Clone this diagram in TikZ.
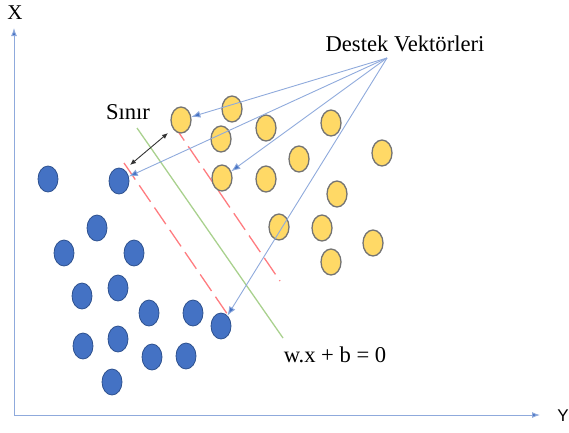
\documentclass[tikz,border=0pt]{standalone}
\usepackage{fontspec}
\setmainfont{Liberation Serif}
\newfontfamily\arialfont{Liberation Sans}
\usetikzlibrary{positioning,arrows.meta,shapes.geometric}
\definecolor{dotblue}{HTML}{4472C4}
\definecolor{dotedge}{HTML}{2F528F}
\definecolor{dotyellow}{HTML}{FFD966}
\definecolor{axisblue}{HTML}{8FAADC}
\definecolor{marginred}{HTML}{FF7C80}
\definecolor{planegreen}{HTML}{A9D18E}
\tikzset{
  bluedot/.style={ellipse, fill=dotblue, draw=dotedge, line width=0.8pt, minimum width=20pt, minimum height=26pt, inner sep=0pt},
  yellowdot/.style={ellipse, fill=dotyellow, draw=gray!90!black, line width=1.3pt, minimum width=20pt, minimum height=26pt, inner sep=0pt},
  svarrow/.style={draw=axisblue, line width=0.9pt, -{Latex[length=9pt,width=7pt,fill=dotblue]}},
  axisline/.style={draw=axisblue, line width=1pt, -{Latex[length=8pt,width=6pt,fill=dotblue]}},
  margin/.style={draw=marginred, line width=1.3pt, dash pattern=on 20pt off 7pt},
  lbl/.style={font=\fontsize{22.6}{26}\selectfont, inner sep=0pt}
}

\begin{document}
\begin{tikzpicture}[x=1pt, y=-1pt]
  \useasboundingbox (0,0) rectangle (569,432);
  \coordinate (o) at (14,415);
  \coordinate (xend) at (14,28);
  \coordinate (yend) at (540,415);
  \draw[axisline] (o) -- (xend);
  \draw[axisline] (o) -- (yend);
  \node[font=\fontsize{21}{24}\selectfont, inner sep=0pt] (xlbl) at (15,13) {X};
  \node[font=\arialfont\fontsize{17}{20}\selectfont, inner sep=0pt] (ylbl) at (563,416) {Y};

  \draw[planegreen, line width=1.3pt] (137,128) -- (283,338);
  \draw[margin] (124,163) -- (230,318);
  \draw[margin] (173,124) -- (280,281);

  \node[bluedot] (b1) at (48,179) {};
  \node[bluedot] (b2) at (119,181) {};
  \node[bluedot] (b3) at (97,228) {};
  \node[bluedot] (b4) at (64,253) {};
  \node[bluedot] (b5) at (134,253) {};
  \node[bluedot] (b6) at (82,296) {};
  \node[bluedot] (b7) at (118,288) {};
  \node[bluedot] (b8) at (149,313) {};
  \node[bluedot] (b9) at (193,313) {};
  \node[bluedot] (b10) at (221,326) {};
  \node[bluedot] (b11) at (83,346) {};
  \node[bluedot] (b12) at (118,339) {};
  \node[bluedot] (b13) at (152,357) {};
  \node[bluedot] (b14) at (186,356) {};
  \node[bluedot] (b15) at (112,382) {};

  \node[yellowdot] (y1) at (181,120) {};
  \node[yellowdot] (y2) at (232,109) {};
  \node[yellowdot] (y3) at (221,139) {};
  \node[yellowdot] (y4) at (266,128) {};
  \node[yellowdot] (y5) at (331,123) {};
  \node[yellowdot] (y6) at (299,159) {};
  \node[yellowdot] (y7) at (382,153) {};
  \node[yellowdot] (y8) at (222,178) {};
  \node[yellowdot] (y9) at (266,179) {};
  \node[yellowdot] (y10) at (337,194) {};
  \node[yellowdot] (y11) at (279,227) {};
  \node[yellowdot] (y12) at (322,228) {};
  \node[yellowdot] (y13) at (373,243) {};
  \node[yellowdot] (y14) at (331,262) {};

  \node[lbl] (sv) at (405,44) {Destek Vektörleri};
  \coordinate (dv) at (387,58);
  \draw[svarrow] (dv) -- (y1);
  \draw[svarrow] (dv) -- (b2);
  \draw[svarrow] (dv) -- (y8);
  \draw[svarrow] (dv) -- (b10);

  \node[lbl] (sinir) at (128,112) {Sınır};
  \coordinate (gapa) at (168,133);
  \coordinate (gapb) at (130,165);
  \draw[black!80, line width=0.9pt, {Latex[length=6pt,width=5pt]}-{Latex[length=6pt,width=5pt]}] (gapa) -- (gapb);

  \node[lbl] (plane) at (335,355) {w.x + b = 0};
\end{tikzpicture}
\end{document}
